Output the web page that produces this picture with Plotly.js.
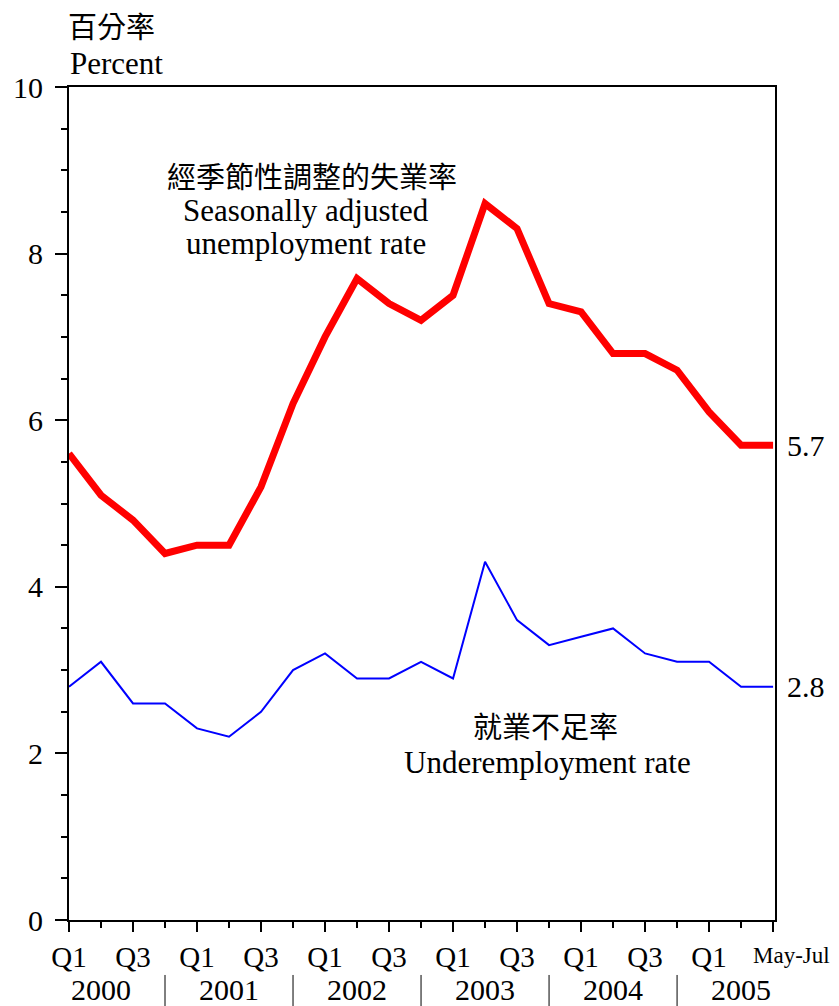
<!DOCTYPE html>
<html><head><meta charset="utf-8">
<script src="https://cdn.plot.ly/plotly-3.0.1.min.js"></script>
<style>body{margin:0;background:#fff}#chart{width:839px;height:1006px}</style>
</head><body><div id="chart"></div>
<script>
var periods = ['2000Q1','2000Q2','2000Q3','2000Q4','2001Q1','2001Q2','2001Q3','2001Q4','2002Q1','2002Q2','2002Q3','2002Q4','2003Q1','2003Q2','2003Q3','2003Q4','2004Q1','2004Q2','2004Q3','2004Q4','2005Q1','2005Q2','2005May-Jul'];
var unemployment = [5.6,5.1,4.8,4.4,4.5,4.5,5.2,6.2,7.0,7.7,7.4,7.2,7.5,8.6,8.3,7.4,7.3,6.8,6.8,6.6,6.1,5.7,5.7];
var underemployment = [2.8,3.1,2.6,2.6,2.3,2.2,2.5,3.0,3.2,2.9,2.9,3.1,2.9,4.3,3.6,3.3,3.4,3.5,3.2,3.1,3.1,2.8,2.8];
var quarterLabels = ['Q1','','Q3','','Q1','','Q3','','Q1','','Q3','','Q1','','Q3','','Q1','','Q3','','Q1','',''];
var years = ['2000','2001','2002','2003','2004','2005'];
var lastLabel = 'May-Jul';

var xIdx = periods.map(function(_, i){ return i; });
var serif = 'Liberation Serif, Times New Roman, Noto Sans CJK TC, serif';
var cjk = 'Noto Sans CJK TC, sans-serif';

var traces = [
  {x: xIdx, y: underemployment, type:'scatter', mode:'lines', line:{color:'#0000ff', width:2}, hoverinfo:'skip'},
  {x: xIdx, y: unemployment, type:'scatter', mode:'lines', line:{color:'#ff0000', width:7}, hoverinfo:'skip'}
];

var shapes = [];
var annotations = [];
for (var k = 0; k < years.length - 1; k++) {
  var xv = 3 + 4*k;
  shapes.push({type:'line', xref:'x', yref:'paper', x0:xv, x1:xv, y0:-0.066, y1:-0.105, line:{color:'#000', width:1}});
}
years.forEach(function(yr, k){
  annotations.push({xref:'x', yref:'paper', x:1+4*k, y:-0.084, text:yr, showarrow:false, font:{family:serif, size:30, color:'#000'}, xanchor:'center', yanchor:'middle'});
});
annotations.push({xref:'x', yref:'paper', x:22, y:-0.043, text:lastLabel, showarrow:false, font:{family:serif, size:23, color:'#000'}, xanchor:'center', yanchor:'middle', xshift:18});
annotations.push({xref:'paper', yref:'paper', x:-0.004, y:1.0744, text:'百分率', showarrow:false, font:{family:cjk, size:29, color:'#000'}, xanchor:'left', yanchor:'middle'});
annotations.push({xref:'paper', yref:'paper', x:-0.001, y:1.028, text:'Percent', showarrow:false, font:{family:serif, size:31, color:'#000'}, xanchor:'left', yanchor:'middle'});
annotations.push({xref:'paper', yref:'paper', x:(312-69)/706, y:(920-175)/833, text:'經季節性調整的失業率', showarrow:false, font:{family:cjk, size:29, color:'#000'}, xanchor:'center', yanchor:'middle'});
annotations.push({xref:'paper', yref:'paper', x:(306-69)/706, y:(920-211)/833, text:'Seasonally adjusted', showarrow:false, font:{family:serif, size:31, color:'#000'}, xanchor:'center', yanchor:'middle'});
annotations.push({xref:'paper', yref:'paper', x:(306-69)/706, y:(920-244)/833, text:'unemployment rate', showarrow:false, font:{family:serif, size:31, color:'#000'}, xanchor:'center', yanchor:'middle'});
annotations.push({xref:'paper', yref:'paper', x:(545-69)/706, y:(920-725)/833, text:'就業不足率', showarrow:false, font:{family:cjk, size:29, color:'#000'}, xanchor:'center', yanchor:'middle'});
annotations.push({xref:'paper', yref:'paper', x:(547-69)/706, y:(920-762)/833, text:'Underemployment rate', showarrow:false, font:{family:serif, size:31, color:'#000'}, xanchor:'center', yanchor:'middle'});
annotations.push({xref:'paper', yref:'y', x:1, y:unemployment[unemployment.length-1], text:unemployment[unemployment.length-1].toFixed(1), showarrow:false, font:{family:serif, size:30, color:'#000'}, xanchor:'left', yanchor:'middle', xshift:10});
annotations.push({xref:'paper', yref:'y', x:1, y:underemployment[underemployment.length-1], text:underemployment[underemployment.length-1].toFixed(1), showarrow:false, font:{family:serif, size:30, color:'#000'}, xanchor:'left', yanchor:'middle', xshift:10});

var tickvals = [], ticktext = [];
for (var i = 0; i < periods.length; i += 2) { tickvals.push(i); ticktext.push(quarterLabels[i]); }

var layout = {
  width:839, height:1006,
  margin:{l:69, r:64, t:87, b:86},
  paper_bgcolor:'#fff', plot_bgcolor:'#fff',
  showlegend:false,
  font:{family:serif, size:29, color:'#000'},
  xaxis:{range:[0,22.06], tickmode:'array', tickvals:tickvals, ticktext:ticktext, ticks:'outside', ticklen:10, tickwidth:2, tickcolor:'#000',
    minor:{tickmode:'linear', tick0:0, dtick:1, ticks:'outside', ticklen:6, tickwidth:2, tickcolor:'#000', showgrid:false},
    showline:true, linecolor:'#000', linewidth:2, mirror:true, showgrid:false, zeroline:false, fixedrange:true,
    tickfont:{family:serif, size:29, color:'#000'}},
  yaxis:{range:[0,10], tickmode:'linear', tick0:0, dtick:2, ticks:'outside', ticklen:12, tickwidth:2, tickcolor:'#000',
    minor:{tickmode:'linear', tick0:0, dtick:0.5, ticks:'outside', ticklen:6, tickwidth:2, tickcolor:'#000', showgrid:false},
    showline:true, linecolor:'#000', linewidth:2, mirror:true, showgrid:false, zeroline:false, fixedrange:true,
    ticklabelstandoff:6,
    tickfont:{family:serif, size:30, color:'#000'}},
  shapes:shapes,
  annotations:annotations
};
Plotly.newPlot('chart', traces, layout, {displayModeBar:false, staticPlot:true});
</script></body></html>
